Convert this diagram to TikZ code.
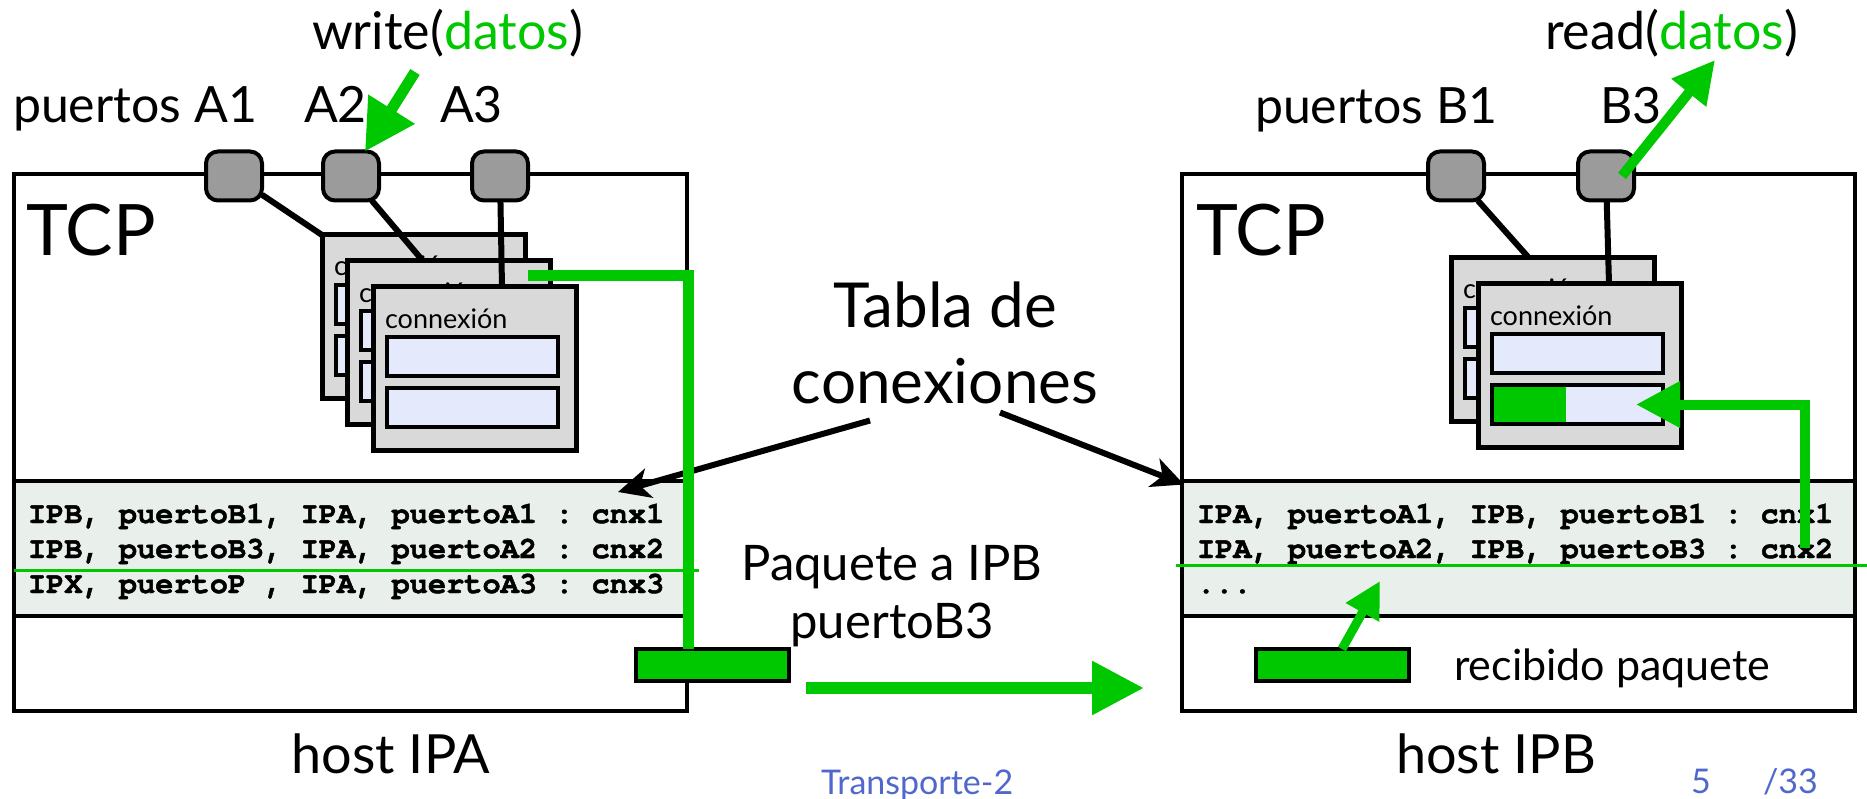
\documentclass[tikz,border=0pt]{standalone}
\usepackage{fontspec}
\setmainfont{Lato}
\setmonofont{TeX Gyre Cursor}[BoldFeatures={FakeBold=1.6}]
\usetikzlibrary{arrows.meta}
\definecolor{verde}{HTML}{00C800}
\definecolor{gris}{HTML}{9B9B9B}
\definecolor{tarjeta}{HTML}{D9D9D9}
\definecolor{campo}{HTML}{E4EAFC}
\definecolor{fondotabla}{HTML}{E9EFEA}
\definecolor{pie}{HTML}{5068CC}
\tikzset{
 every node/.style={outer sep=0pt},
 host/.style={draw, line width=4pt, minimum width=673pt, minimum height=537pt, inner sep=0pt},
 tbl/.style={draw, fill=fondotabla, line width=4pt, minimum width=673pt, minimum height=135pt, inner sep=0pt},
 port/.style={draw, fill=gris, line width=4pt, rounded corners=12pt, minimum width=56pt, minimum height=49pt, inner sep=0pt},
 card/.style={draw, fill=tarjeta, line width=5pt, anchor=north west, minimum width=203pt, minimum height=163pt, inner sep=0pt},
 field/.style={draw, fill=campo, line width=4.5pt, anchor=north west, minimum width=171pt, minimum height=39pt, inner sep=0pt},
 pkt/.style={draw, fill=verde, line width=4pt, anchor=north west, minimum width=153pt, minimum height=32pt, inner sep=0pt},
 txt/.style={anchor=base west, inner sep=0pt, font=\fontsize{50}{60}\selectfont},
 wire/.style={line width=6pt},
}
\begin{document}
\begin{tikzpicture}[x=1pt,y=-1pt]
\useasboundingbox (0,0) rectangle (1867,799);
\node[host] (hostA) at (350.5,442.5) {};
\node[host] (hostB) at (1518.5,442.5) {};
\node[tbl] (tabA) at (350.5,548.5) {};
\node[tbl] (tabB) at (1518.5,548) {};
\foreach \r/\t in {1/{IPB, puertoB1, IPA, puertoA1 : cnx1},2/{IPB, puertoB3, IPA, puertoA2 : cnx2},3/{IPX, puertoP , IPA, puertoA3 : cnx3}}
 \node[anchor=base west, inner sep=0pt, font=\fontsize{30.3}{35}\ttfamily\bfseries] (fA\r) at (28,488+35*\r) {\t};
\foreach \r/\t in {1/{IPA, puertoA1, IPB, puertoB1 : cnx1},2/{IPA, puertoA2, IPB, puertoB3 : cnx2},3/{...}}
 \node[anchor=base west, inner sep=0pt, font=\fontsize{30.3}{35}\ttfamily\bfseries] (fB\r) at (1197,488+35*\r) {\t};
\draw[verde, line width=3pt] (14,570) -- (699,570);
\draw[verde, line width=3pt] (1176,565) -- (1867,565);
\foreach \c/\x/\y in {A1/322/235, A2/347/261, A3/373/287, B1/1451/258, B3/1478/284} {
 \node[card] (c\c) at (\x,\y) {};
 \node[anchor=base west, inner sep=0pt, font=\fontsize{27}{30}\selectfont] at ([xshift=12pt,yshift=-41pt]c\c.north west) {connexión};
 \node[field] (c\c f1) at ([xshift=14pt,yshift=-50pt]c\c.north west) {};
 \node[field] (c\c f2) at ([xshift=14pt,yshift=-101pt]c\c.north west) {};
}
\fill[verde] ([xshift=2.25pt,yshift=-2.25pt]cB3f2.north west) rectangle ([xshift=74pt,yshift=2.25pt]cB3f2.south west);
\foreach \p/\x in {A1/234, A2/351, A3/500, B1/1456, B3/1606}
 \node[port] (p\p) at (\x,176) {};
\draw[wire] (pA1) -- (cA1.north west);
\draw[wire] (pA2) -- ([xshift=76pt]cA2.north west);
\draw[wire] (pA3) -- ([xshift=129pt]cA3.north west);
\draw[wire] (pB1) -- ([xshift=78pt]cB1.north west);
\draw[wire] (pB3) -- ([xshift=131pt]cB3.north west);
\node[pkt] (pktA) at (636,649) {};
\node[pkt] (pktB) at (1256,649) {};
\node[txt, font=\fontsize{71}{80}\selectfont] (tcpA) at (26,256) {TCP};
\node[txt, font=\fontsize{71}{80}\selectfont] (tcpB) at (1196,256) {TCP};
\node[txt] (ptA) at (13,123) {puertos A1};
\node[txt] (ptA2) at (304,123) {A2};
\node[txt] (ptA3) at (440,123) {A3};
\node[txt] (ptB) at (1255,124) {puertos B1};
\node[txt] (ptB3) at (1600,124) {B3};
\node[txt, font=\fontsize{52}{60}\selectfont] (write) at (312,50) {write(\textcolor{verde}{datos})};
\node[txt, font=\fontsize{52}{60}\selectfont] (read) at (1545,50) {read(\textcolor{verde}{datos})};
\node[txt, anchor=base, font=\fontsize{62}{70}\selectfont] (tabla1) at (945,327) {Tabla de};
\node[txt, anchor=base, font=\fontsize{62}{70}\selectfont] (tabla2) at (945,403) {conexiones};
\node[txt, anchor=base, font=\fontsize{49}{56}\selectfont] (paq1) at (892,580) {Paquete a IPB};
\node[txt, anchor=base, font=\fontsize{49}{56}\selectfont] (paq2) at (892,638) {puertoB3};
\node[txt, font=\fontsize{43}{50}\selectfont] (recib) at (1454,680) {recibido paquete};
\node[txt, anchor=base, font=\fontsize{54}{60}\selectfont] (hostIPA) at (391,773) {host IPA};
\node[txt, anchor=base, font=\fontsize{54}{60}\selectfont] (hostIPB) at (1496,773) {host IPB};
\node[txt, font=\fontsize{34}{40}\selectfont, pie] (tema) at (821,794) {Transporte-2};
\node[txt, font=\fontsize{34}{40}\selectfont, pie] (pag) at (1691,793) {5};
\node[txt, font=\fontsize{34}{40}\selectfont, pie] (tot) at (1763,793) {/33};
\draw[line width=6pt, -{Stealth[length=32pt, width=30pt, inset=9pt]}] ([xshift=-75pt,yshift=-17pt]tabla2.south) -- ([xshift=-69pt,yshift=-11pt]tabA.north east);
\draw[line width=6pt, -{Stealth[length=32pt, width=30pt, inset=9pt]}] ([xshift=55pt,yshift=-9pt]tabla2.south) -- ([xshift=2pt,yshift=-4pt]tabB.north west);
\coordinate (gA) at ([xshift=181pt,yshift=-15pt]cA2.north west);
\draw[verde, line width=11pt] (gA) -| ([xshift=52pt]pktA.north west);
\coordinate (wsrc) at (415,72);
\draw[verde, line width=11pt, -{Triangle[length=50pt, width=52pt]}] (wsrc) -- ([xshift=14pt]pA2.north);
\coordinate (rdst) at (1715,60);
\draw[verde, line width=10pt, -{Triangle[length=42pt, width=42pt]}] ([xshift=16pt]pB3.center) -- (rdst);
\coordinate (envio1) at (806,688);
\coordinate (envio2) at (1144,688);
\draw[verde, line width=12pt, -{Triangle[length=52pt, width=51pt]}] (envio1) -- (envio2);
\coordinate (gB) at (1805,548);
\draw[verde, line width=10pt, -{Triangle[length=44pt, width=44pt]}] (gB) |- ([xshift=-27pt]cB3f2.east);
\coordinate (rdst2) at (1380,581);
\draw[verde, line width=9pt, -{Triangle[length=36pt, width=36pt]}] ([xshift=86pt]pktB.north west) -- (rdst2);
\end{tikzpicture}
\end{document}
